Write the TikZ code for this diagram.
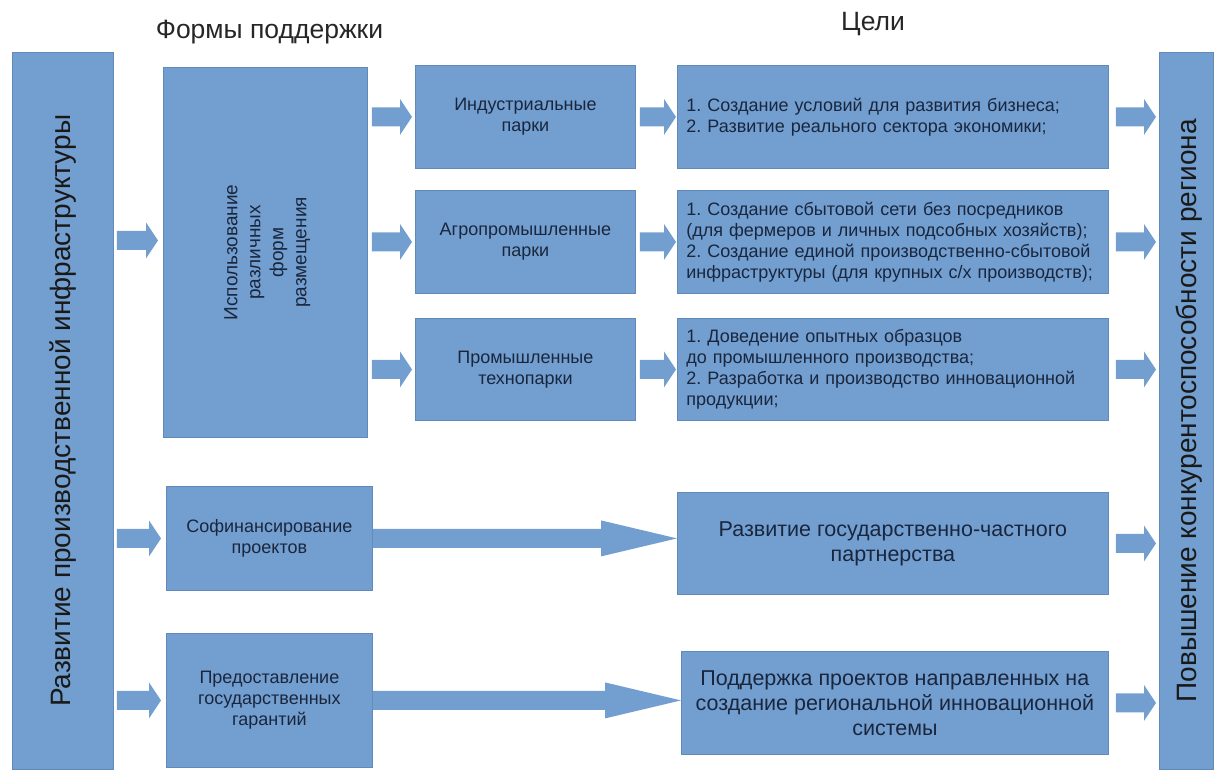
\documentclass[tikz,border=0pt]{standalone}
\usepackage{fontspec}
\setmainfont{Liberation Sans}
\usetikzlibrary{arrows.meta,calc}
\frenchspacing
\definecolor{bfill}{RGB}{114,159,207}
\definecolor{bdr}{RGB}{98,138,184}
\definecolor{txt}{RGB}{26,38,62}
\tikzset{
  box/.style={draw=bdr, fill=bfill, line width=0.8pt, inner sep=0pt, anchor=north west, text=txt, align=center, font=\fontsize{18}{21}\selectfont},
  goalbox/.style={box, align=left, inner xsep=9pt},
  bigtext/.style={font=\fontsize{21.5}{25}\selectfont},
  vtext/.style={rotate=90, text=black!90, font=\fontsize{28}{34}\selectfont},
  hdr/.style={text=black!85, font=\fontsize{26.5}{30}\selectfont, inner sep=0pt},
  blk/.style n args={3}{fill=bfill, draw=none,
    to path={let \p1=(\tikztostart), \p2=(\tikztotarget) in
      (\x1+#2,\y1+9.5pt) -- (\x2-#3-#1,\y1+9.5pt) -- (\x2-#3-#1,\y1+18pt) -- (\x2-#3,\y1)
      -- (\x2-#3-#1,\y1-18pt) -- (\x2-#3-#1,\y1-9.5pt) -- (\x1+#2,\y1-9.5pt) -- cycle}}
}
\begin{document}
\begin{tikzpicture}[x=1pt,y=-1pt]
\useasboundingbox (0,0) rectangle (1216,769);
% headers
\node[hdr, anchor=base] (hforms) at (269.5,38) {Формы поддержки};
\node[hdr, anchor=base] (hgoals) at (873,30) {Цели};
% big side boxes
\node[box, minimum width=101pt, minimum height=717pt] (infra) at (12,52) {};
\node[vtext] (infratxt) at (infra.center) {Развитие производственной инфраструктуры};
\node[box, minimum width=54pt, minimum height=717pt] (compet) at (1159,52) {};
\node[vtext] (compettxt) at ([xshift=3pt]compet.center) {Повышение конкурентоспособности региона};
% middle placement box
\node[box, minimum width=204pt, minimum height=370pt] (mid) at (163,67) {};
\node[rotate=90, align=center, text=txt, font=\fontsize{19}{23}\selectfont] (midtxt) at ([xshift=2pt]mid.center) {Использование\\различных\\форм\\размещения};
\coordinate (midin) at ([yshift=12pt]mid.west);
% parks
\node[box, minimum width=220pt, minimum height=103pt] (ind) at (415,65) {Индустриальные\\парки};
\node[box, minimum width=220pt, minimum height=103pt] (agro) at (415,190) {Агропромышленные\\парки};
\node[box, minimum width=220pt, minimum height=102pt] (tech) at (415,318) {Промышленные\\технопарки};
% goals
\node[goalbox, text width=413pt, minimum height=103pt] (g1) at (677,65) {1. Создание условий для развития бизнеса;\\2. Развитие реального сектора экономики;};
\node[goalbox, text width=413pt, minimum height=103pt] (g2) at (677,190) {1. Создание сбытовой сети без посредников\\(для фермеров и личных подсобных хозяйств);\\2. Создание единой производственно-сбытовой\\инфраструктуры (для крупных с/х производств);};
\node[goalbox, text width=413pt, minimum height=102pt] (g3) at (677,318) {1. Доведение опытных образцов\\до промышленного производства;\\2. Разработка и производство инновационной\\продукции;};
% lower rows
\node[box, minimum width=206pt, minimum height=104pt] (cofin) at (166,486) {Софинансирование\\проектов};
\node[box, minimum width=206pt, minimum height=134pt] (guar) at (166,633) {Предоставление\\государственных\\гарантий};
\node[box, bigtext, minimum width=431pt, minimum height=102pt] (ppp) at (677,492) {Развитие государственно-частного\\партнерства};
\node[box, bigtext, minimum width=427pt, minimum height=103pt] (innov) at (681,651) {Поддержка проектов направленных на\\создание региональной инновационной\\системы};
% arrows from left box
\path[blk={12pt}{3pt}{5pt}] (infra.east |- midin) to (midin);
\path[blk={12pt}{3pt}{5pt}] (infra.east |- cofin.west) to (cofin.west);
\path[blk={12pt}{3pt}{5pt}] (infra.east |- guar.west) to (guar.west);
% arrows mid -> parks
\path[blk={12pt}{4pt}{3pt}] (mid.east |- ind.west) to (ind.west);
\path[blk={12pt}{4pt}{3pt}] (mid.east |- agro.west) to (agro.west);
\path[blk={12pt}{4pt}{3pt}] (mid.east |- tech.west) to (tech.west);
% parks -> goals
\path[blk={12pt}{4pt}{1pt}] (ind.east) to (g1.west);
\path[blk={12pt}{4pt}{1pt}] (agro.east) to (g2.west);
\path[blk={12pt}{4pt}{1pt}] (tech.east) to (g3.west);
% big arrows
\path[blk={76pt}{0pt}{0pt}] (cofin.east) to (ppp.west |- cofin.east);
\path[blk={76pt}{0pt}{0pt}] (guar.east) to (innov.west |- guar.east);
% goals -> right box
\path[blk={12pt}{7pt}{3pt}] (g1.east) to (compet.west |- g1.east);
\path[blk={12pt}{7pt}{3pt}] (g2.east) to (compet.west |- g2.east);
\path[blk={12pt}{7pt}{3pt}] (g3.east) to (compet.west |- g3.east);
\path[blk={12pt}{7pt}{3pt}] (ppp.east) to (compet.west |- ppp.east);
\path[blk={12pt}{7pt}{3pt}] (innov.east) to (compet.west |- innov.east);
\end{tikzpicture}
\end{document}
